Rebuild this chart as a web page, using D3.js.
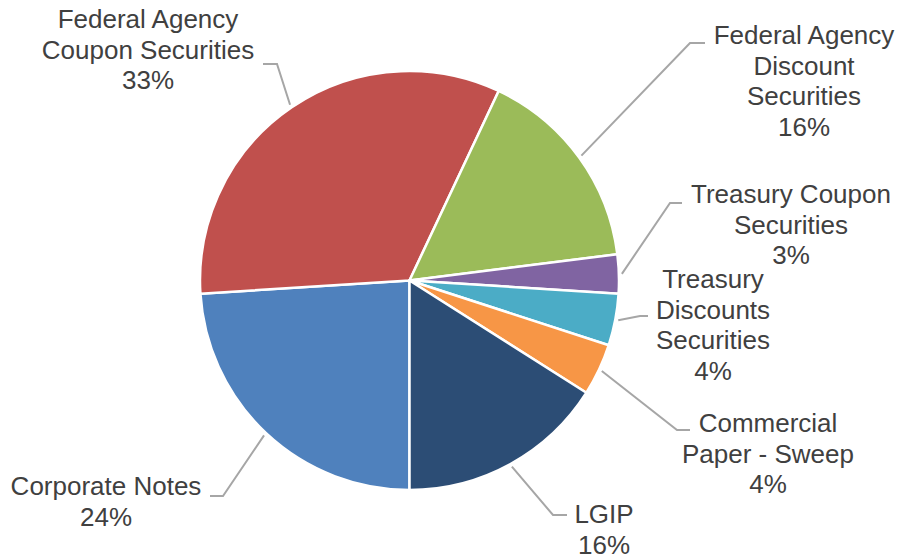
<!DOCTYPE html>
<html>
<head>
<meta charset="utf-8">
<script src="https://cdn.jsdelivr.net/npm/d3@7"></script>
<style>
  html, body { margin: 0; padding: 0; background: #ffffff; }
  svg { display: block; }
  .lbl { font-family: "Liberation Sans", Arial, sans-serif; font-size: 26px; fill: #404040; }
</style>
</head>
<body>
<svg id="chart" width="903" height="558"></svg>
<script>
// Portfolio composition by security type (percent of total)
const categories = [
  "Corporate Notes",
  "Federal Agency\nCoupon Securities",
  "Federal Agency\nDiscount\nSecurities",
  "Treasury Coupon\nSecurities",
  "Treasury\nDiscounts\nSecurities",
  "Commercial\nPaper - Sweep",
  "LGIP"
];
const values = [24, 33, 16, 3, 4, 4, 16];
const colors = ["#4F81BD", "#C0504D", "#9BBB59", "#8064A2", "#4BACC6", "#F79646", "#2C4D75"];

// Label placement: text centre x, first baseline y, and leader elbow / end points
const labelLayout = [
  { x: 106, y: 495, elbow: [223, 496], end: [210, 496] },
  { x: 148, y: 28,  elbow: [277, 64],  end: [263, 64] },
  { x: 804, y: 44,  elbow: [690, 43],  end: [705, 43] },
  { x: 791, y: 203, elbow: [670, 203], end: [682, 203] },
  { x: 713, y: 288, elbow: [640, 316], end: [648, 316] },
  { x: 768, y: 432, elbow: [677, 430], end: [690, 430] },
  { x: 604, y: 523, elbow: [553, 515], end: [567, 515] }
];

const cx = 409.5, cy = 280.5, radius = 209.5, lineGap = 30.5;

const svg = d3.select("#chart");
const data = categories.map((c, i) => ({ name: c, value: values[i], color: colors[i], layout: labelLayout[i] }));

const pie = d3.pie().sort(null).value(d => d.value)
  .startAngle(Math.PI).endAngle(3 * Math.PI);
const arc = d3.arc().innerRadius(0).outerRadius(radius);
const arcs = pie(data);

const g = svg.append("g").attr("transform", `translate(${cx},${cy})`);
g.selectAll("path.slice")
  .data(arcs)
  .join("path")
  .attr("class", "slice")
  .attr("d", arc)
  .attr("fill", d => d.data.color)
  .attr("stroke", "#ffffff")
  .attr("stroke-width", 2.5)
  .attr("stroke-linejoin", "round");

// Leader lines from slice edge to label
const line = d3.line();
svg.selectAll("path.leader")
  .data(arcs)
  .join("path")
  .attr("class", "leader")
  .attr("d", d => {
    const a = (d.startAngle + d.endAngle) / 2;
    const r = radius + 3;
    const p0 = [cx + r * Math.sin(a), cy - r * Math.cos(a)];
    return line([p0, d.data.layout.elbow, d.data.layout.end]);
  })
  .attr("fill", "none")
  .attr("stroke", "#A6A6A6")
  .attr("stroke-width", 2);

// Category and percentage labels
const labels = svg.selectAll("text.lbl")
  .data(arcs)
  .join("text")
  .attr("class", "lbl")
  .attr("text-anchor", "middle");

labels.each(function(d) {
  const t = d3.select(this);
  const lines = d.data.name.split("\n").concat([d3.format(".0%")(d.data.value / 100)]);
  lines.forEach((s, i) => {
    t.append("tspan")
      .attr("x", d.data.layout.x)
      .attr("y", d.data.layout.y + i * lineGap)
      .text(s);
  });
});
</script>
</body>
</html>
